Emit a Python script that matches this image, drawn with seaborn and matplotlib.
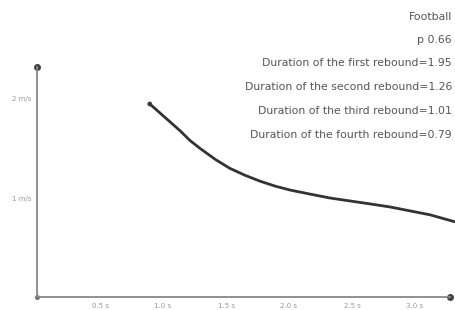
import matplotlib
matplotlib.use("Agg")
import matplotlib.pyplot as plt
import seaborn as sns
import pandas as pd

# curve (x in tick units, y in m/s)
time_s = [1.79, 1.95, 2.11, 2.27, 2.43, 2.59, 2.83, 3.06, 3.30, 3.54,
          3.78, 4.02, 4.33, 4.65, 4.97, 5.29, 5.60, 5.92, 6.24, 6.63]
speed = [1.95, 1.86, 1.77, 1.68, 1.58, 1.50, 1.39, 1.30, 1.23, 1.17,
         1.12, 1.08, 1.04, 1.00, 0.97, 0.94, 0.91, 0.87, 0.83, 0.76]
x_ticks = [1, 2, 3, 4, 5, 6]
x_labels = ["0.5 s", "1.0 s", "1.5 s", "2.0 s", "2.5 s", "3.0 s"]
y_ticks = [1, 2]
y_labels = ["1 m/s", "2 m/s"]
notes = ["Football", "p 0.66", "Duration of the first rebound=1.95",
         "Duration of the second rebound=1.26",
         "Duration of the third rebound=1.01",
         "Duration of the fourth rebound=0.79"]

df = pd.DataFrame({"t": time_s, "v": speed})

sns.set_style("white")
fig = plt.figure(figsize=(4.55, 3.1), dpi=100)
ax = fig.add_axes([37 / 455, 13 / 310, 413 / 455, 230 / 310])

sns.lineplot(data=df, x="t", y="v", ax=ax, color="#333333", linewidth=2,
             clip_on=False)
sns.scatterplot(data=df.iloc[:1], x="t", y="v", ax=ax, color="#444444",
                s=12, edgecolor="none", clip_on=False)

ax.set_xlim(0, 413 / 63)
ax.set_ylim(0, 230 / 99)
sns.despine(ax=ax)
for s in ["left", "bottom"]:
    ax.spines[s].set_color("#888888")
    ax.spines[s].set_linewidth(1.3)
ax.plot([1], [0], "o", color="#444444", ms=4, transform=ax.transAxes, clip_on=False)
ax.plot([0], [1], "o", color="#444444", ms=4, transform=ax.transAxes, clip_on=False)
ax.plot([0], [0], "o", color="#666666", ms=2.5, transform=ax.transAxes, clip_on=False)

ax.set_xticks(x_ticks)
ax.set_xticklabels(x_labels)
ax.set_yticks(y_ticks)
ax.set_yticklabels(y_labels)
ax.tick_params(axis="both", length=4, width=2, direction="inout",
               color="#666666", labelsize=5, labelcolor="#999999", pad=2)
ax.set_xlabel("")
ax.set_ylabel("")

# annotations stacked at the top right
tops = [17, 40, 63, 87, 111, 135]
for txt, y in zip(notes, tops):
    fig.text(452 / 455, 1 - y / 310, txt, ha="right", va="center",
             fontsize=7.8, color="#555555")

fig.savefig("out.png", dpi=100)
